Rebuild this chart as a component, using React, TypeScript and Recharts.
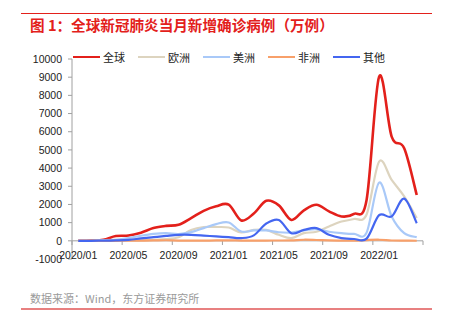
import React from 'react';
import { LineChart, Line, XAxis, YAxis, ReferenceLine } from 'recharts';

const months = [
  '2020/01','2020/02','2020/03','2020/04','2020/05','2020/06','2020/07','2020/08','2020/09','2020/10','2020/11','2020/12',
  '2021/01','2021/02','2021/03','2021/04','2021/05','2021/06','2021/07','2021/08','2021/09','2021/10','2021/11','2021/12',
  '2022/01','2022/02','2022/03','2022/04',
];
const globalCases = [0, 20, 60, 260, 290, 450, 700, 820, 880, 1250, 1650, 1900, 1990, 1120, 1500, 2200, 1950, 1150, 1680, 1980, 1620, 1340, 1480, 2250, 9030, 5730, 5090, 2520];
const europeCases = [0, 1, 45, 60, 40, 30, 50, 90, 200, 600, 760, 760, 730, 460, 600, 600, 330, 150, 420, 500, 790, 1060, 1200, 1450, 4360, 3350, 2440, 1250];
const americasCases = [0, 0, 20, 55, 150, 280, 380, 420, 370, 480, 700, 920, 1010, 510, 570, 570, 470, 450, 570, 640, 500, 420, 380, 450, 3200, 1340, 420, 200];
const africaCases = [0, 0, 1, 2, 5, 10, 20, 30, 15, 10, 12, 20, 25, 14, 12, 15, 18, 25, 60, 45, 20, 8, 6, 40, 60, 18, 8, 5];
const otherCases = [0, 2, 10, 25, 55, 130, 200, 270, 330, 330, 290, 240, 200, 150, 300, 950, 1150, 420, 600, 700, 330, 150, 100, 120, 1410, 1340, 2320, 970];

const yTicks = [-1000, 0, 1000, 2000, 3000, 4000, 5000, 6000, 7000, 8000, 9000, 10000];
const labelEvery = 4;

const series = [
  { key: 'global', name: '全球', values: globalCases, color: '#e3201b', width: 2.6 },
  { key: 'europe', name: '欧洲', values: europeCases, color: '#ddd4bf', width: 2.2 },
  { key: 'americas', name: '美洲', values: americasCases, color: '#a9c9f8', width: 2.2 },
  { key: 'africa', name: '非洲', values: africaCases, color: '#f8a06a', width: 2.2 },
  { key: 'other', name: '其他', values: otherCases, color: '#4466f0', width: 2.2 },
];

const data = months.map((m, i) => {
  const row: any = { x: i + 0.5, month: m };
  series.forEach((s) => { row[s.key] = s.values[i]; });
  return row;
});

const labelTicks = months.map((_, i) => i).filter((i) => i % labelEvery === 0).map((i) => i + 0.5);
const boundaryTicks: number[] = [];
for (let k = 0; k <= months.length; k += labelEvery) boundaryTicks.push(k);

// Catmull-Rom style smoothing similar to spreadsheet "smoothed line"
const smoothCurve = (context: any) => {
  let pts: number[][] = [];
  return {
    areaStart() {},
    areaEnd() {},
    lineStart() { pts = []; },
    point(x: number, y: number) { pts.push([+x, +y]); },
    lineEnd() {
      const n = pts.length;
      if (!n) return;
      context.moveTo(pts[0][0], pts[0][1]);
      const k = 1 / 6;
      for (let i = 0; i < n - 1; i++) {
        const p0 = pts[i - 1] || pts[i];
        const p1 = pts[i];
        const p2 = pts[i + 1];
        const p3 = pts[i + 2] || pts[i + 1];
        context.bezierCurveTo(
          p1[0] + k * (p2[0] - p0[0]), p1[1] + k * (p2[1] - p0[1]),
          p2[0] - k * (p3[0] - p1[0]), p2[1] - k * (p3[1] - p1[1]),
          p2[0], p2[1]
        );
      }
    },
  };
};

const AXIS_FONT = '"Liberation Sans", Arial, sans-serif';
const CJK_FONT = '"Noto Sans CJK SC", "Liberation Sans", sans-serif';

const XTick = (props: any) => {
  const { x, y, payload } = props;
  const idx = Math.round(payload.value - 0.5);
  return (
    <text x={x} y={y} textAnchor="middle" fontSize={10.5} fill="#222" fontFamily={AXIS_FONT}>
      {months[idx]}
    </text>
  );
};

export default function App() {
  return (
    <div style={{ position: 'fixed', left: 0, top: 0, width: 450, height: 321, background: '#fff', overflow: 'hidden' }}>
      <div style={{ position: 'absolute', left: 21, top: 13, width: 411, height: 1, background: '#e3201b' }} />
      <div style={{ position: 'absolute', left: 30, top: 14, fontFamily: CJK_FONT, fontWeight: 700, fontSize: 14.6, color: '#e3201b', lineHeight: '22px', whiteSpace: 'nowrap' }}>
        图 1：全球新冠肺炎当月新增确诊病例（万例）
      </div>
      <LineChart
        width={450}
        height={321}
        data={data}
        margin={{ top: 59, right: 27, left: 12, bottom: 42 }}
        style={{ position: 'absolute', left: 0, top: 0 }}
      >
        <XAxis
          dataKey="x"
          type="number"
          domain={[0, months.length]}
          ticks={labelTicks}
          interval={0}
          axisLine={false}
          tickLine={false}
          tickSize={0}
          tickMargin={0}
          height={20}
          tick={<XTick />}
        />
        <YAxis
          type="number"
          domain={[-1000, 10000]}
          ticks={yTicks}
          interval={0}
          width={60}
          axisLine={{ stroke: '#a0a0a0' }}
          tickLine={{ stroke: '#a0a0a0' }}
          tickSize={4}
          tickMargin={6}
          tick={{ fontSize: 10.5, fill: '#222', fontFamily: AXIS_FONT }}
        />
        <ReferenceLine y={0} stroke="#a0a0a0" />
        {boundaryTicks.map((k) => (
          <ReferenceLine key={k} segment={[{ x: k, y: 0 }, { x: k, y: -230 }]} stroke="#a0a0a0" ifOverflow="visible" />
        ))}
        {series.map((s) => (
          <Line
            key={s.key}
            dataKey={s.key}
            name={s.name}
            type={smoothCurve as any}
            stroke={s.color}
            strokeWidth={s.width}
            dot={false}
            activeDot={false}
            isAnimationActive={false}
          />
        ))}
      </LineChart>
      <div style={{ position: 'absolute', left: 73, top: 49, display: 'flex', alignItems: 'center', fontFamily: CJK_FONT, fontSize: 11, color: '#222', whiteSpace: 'nowrap' }}>
        {series.map((s) => (
          <div key={s.key} style={{ display: 'flex', alignItems: 'center', marginRight: 13, height: 16 }}>
            <div style={{ width: 27, height: s.key === 'global' ? 2.5 : 2, background: s.color, marginRight: 3 }} />
            <span>{s.name}</span>
          </div>
        ))}
      </div>
      <div style={{ position: 'absolute', left: 30, top: 290, fontFamily: CJK_FONT, fontSize: 11, color: '#9a9a9a', lineHeight: '16px', whiteSpace: 'nowrap' }}>
        数据来源：Wind，东方证券研究所
      </div>
      <div style={{ position: 'absolute', left: 21, top: 308, width: 411, height: 1.5, background: '#e88080' }} />
    </div>
  );
}
